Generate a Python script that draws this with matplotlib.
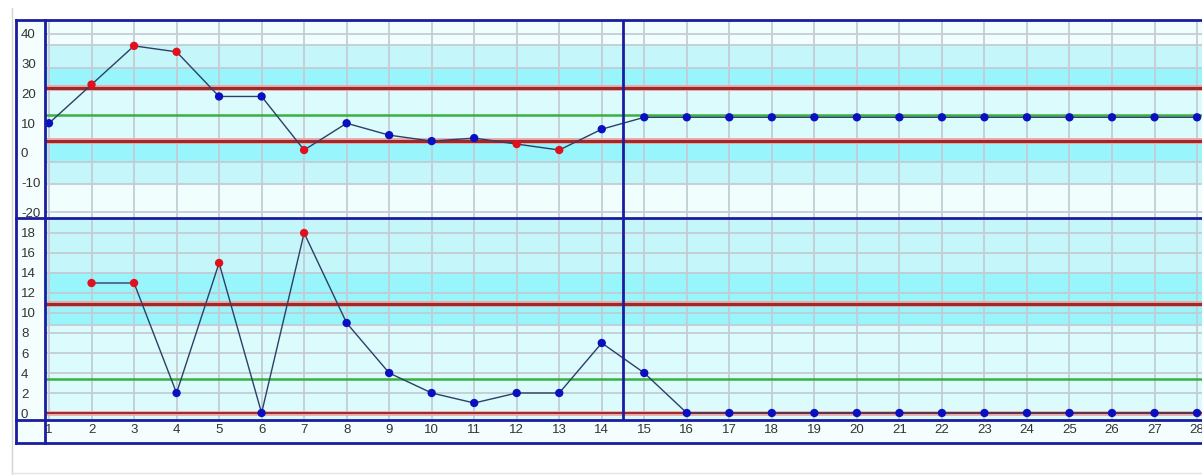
import matplotlib
matplotlib.use('Agg')
import matplotlib.pyplot as plt
from matplotlib.lines import Line2D

plt.rcParams['font.family'] = ['Liberation Sans', 'DejaVu Sans']

# --- data ---
x_top = [1, 2, 3, 4, 5, 6, 7, 8, 9, 10, 11, 12, 13, 14, 15, 16, 17, 18, 19, 20,
         21, 22, 23, 24, 25, 26, 27, 28]
values = [10, 23, 36, 34, 19, 19, 1, 10, 6, 4, 5, 3, 1, 8, 12, 12, 12, 12, 12, 12,
          12, 12, 12, 12, 12, 12, 12, 12]
x_mr = [2, 3, 4, 5, 6, 7, 8, 9, 10, 11, 12, 13, 14, 15, 16, 17, 18, 19, 20,
        21, 22, 23, 24, 25, 26, 27, 28]
moving_range = [13, 13, 2, 15, 0, 18, 9, 4, 2, 1, 2, 2, 7, 4, 0, 0, 0, 0, 0,
                0, 0, 0, 0, 0, 0, 0, 0]

# control limits (individuals / moving range)
top_ucl, top_cl, top_lcl = 21.9, 12.8, 3.9
mr_ucl, mr_cl, mr_lcl = 10.9, 3.4, 0.0

# zone boundaries, grid lines and tick labels
top_zones = [36.3, 28.6, -2.9, -10.3]
top_grid = [40, 36.3, 28.6, -2.9, -10.3, -20]
top_ticks = [40, 30, 20, 10, 0, -10, -20]
mr_zones = [14.1, 8.8]
mr_grid = [18, 16, 14, 12, 10, 8.8, 8, 6, 4, 2, 0]
mr_ticks = [18, 16, 14, 12, 10, 8, 6, 4, 2, 0]
phase_split = 14.5

W, H = 1202, 475
FRAME = '#1c1ca0'
GRID = '#c4ccd4'
PALE = '#f0fefe'
LIGHT = '#dcfbfc'
MID = '#c4f6fa'
BRIGHT = '#98f5fb'
BLUE_PT = '#0a10c0'
RED_PT = '#e0101e'


def fx(px):
    return px / W


def fy(py):
    return 1 - py / H


fig = plt.figure(figsize=(W / 100, H / 100), dpi=100)
fig.patch.set_facecolor('white')

# label column / label row background
fig.add_artist(plt.Rectangle((fx(16), fy(443)), fx(1220) - fx(16), fy(20) - fy(443),
                             transform=fig.transFigure, facecolor='#f4fefe',
                             edgecolor='none', zorder=0))

x_lo = 1 - 4 / 42.52
x_hi = x_lo + 1170 / 42.52

ax1 = fig.add_axes([fx(45), fy(218), fx(1215) - fx(45), fy(20) - fy(218)])
ax2 = fig.add_axes([fx(45), fy(420), fx(1215) - fx(45), fy(218) - fy(420)])

ax1.set_ylim(-21.85, 44.7)
ax2.set_ylim(-0.7, 19.5)


def shade(ax, bands):
    for lo, hi, c in bands:
        ax.axhspan(lo, hi, facecolor=c, edgecolor='none', zorder=0)


shade(ax1, [(top_zones[0], 50, PALE), (top_zones[1], top_zones[0], MID),
            (top_ucl, top_zones[1], BRIGHT), (top_lcl, top_ucl, LIGHT),
            (top_zones[2], top_lcl, BRIGHT), (top_zones[3], top_zones[2], MID),
            (-30, top_zones[3], PALE)])
shade(ax2, [(mr_zones[0], 25, MID), (mr_zones[1], mr_zones[0], BRIGHT),
            (-5, mr_zones[1], LIGHT)])

for ax, grid, ticks in [(ax1, top_grid, top_ticks), (ax2, mr_grid, mr_ticks)]:
    ax.set_xlim(x_lo, x_hi)
    for g in grid:
        ax.axhline(g, color=GRID, lw=1.3, zorder=1)
    for xv in x_top:
        ax.axvline(xv, color=GRID, lw=1.3, zorder=1)
    ax.axvline(phase_split, color=FRAME, lw=2, zorder=6)
    ax.set_yticks(ticks, [str(t) for t in ticks])
    ax.tick_params(axis='y', length=0, pad=17.3, labelsize=9.5, labelcolor='#333333')
    plt.setp(ax.get_yticklabels(), ha='left')
    for s in ax.spines.values():
        s.set_visible(False)

ax1.set_xticks([])
ax2.set_xticks(x_top, [str(v) for v in x_top])
ax2.tick_params(axis='x', length=0, pad=3, labelsize=9.5, labelcolor='#333333')


def limit_lines(ax, ucl, cl, lcl, lcl_lw):
    for v, lw in [(ucl, 2.2), (lcl, lcl_lw)]:
        ax.axhline(v, color='#eaa8a8', lw=lw + 2, zorder=2)
        ax.axhline(v, color='#a02828', lw=lw, zorder=3)
    ax.axhline(cl, color='#3cb040', lw=1.8, zorder=3)


limit_lines(ax1, top_ucl, top_cl, top_lcl, 2.2)
limit_lines(ax2, mr_ucl, mr_cl, mr_lcl, 1.4)


def series(ax, xs, ys, ucl, lcl):
    ax.plot(xs, ys, color='#2e3e66', lw=1, zorder=4)
    cols = [RED_PT if (v > ucl or v < lcl) else BLUE_PT for v in ys]
    ax.scatter(xs, ys, s=36, c=cols, edgecolors='none', zorder=5, clip_on=False)


series(ax1, x_top, values, top_ucl, top_lcl)
series(ax2, x_mr, moving_range, mr_ucl, mr_lcl)

# table frame
def fline(x0, y0, x1, y1, color=FRAME, lw=2):
    fig.add_artist(Line2D([fx(x0), fx(x1)], [fy(y0), fy(y1)],
                          transform=fig.transFigure, color=color, lw=lw, zorder=10))


fline(16, 20, 1220, 20)
fline(16, 218, 1220, 218)
fline(16, 420, 1220, 420)
fline(16, 443, 1220, 443)
fline(16, 20, 16, 443)
fline(45, 20, 45, 443)
fline(12, 8, 12, 475, color='#d4d4d4', lw=1)
fline(12, 473, 1202, 473, color='#e4e4e4', lw=1)

fig.savefig('out.png', dpi=100)
